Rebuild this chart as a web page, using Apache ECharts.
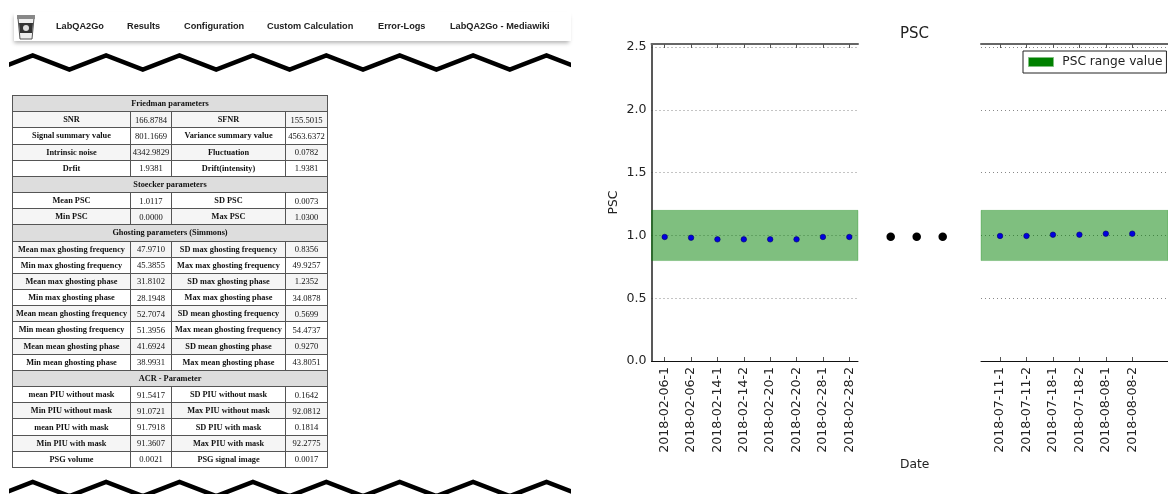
<!DOCTYPE html>
<html>
<head>
<meta charset="utf-8">
<title>PSC</title>
<script src="https://cdn.jsdelivr.net/npm/echarts@6/dist/echarts.min.js"></script>
<style>
html, body { margin: 0; padding: 0; background: #fff; width: 1168px; height: 494px; overflow: hidden; }
#chart { position: absolute; left: 0; top: 0; width: 1168px; height: 494px; }
#nav { position: absolute; left: 14px; top: 12px; width: 557px; height: 29px; background: #fff; box-shadow: -1px 3px 4px -1px rgba(0,0,0,.3); }
#nav span { position: absolute; top: 8px; font: bold 9.2px/12px "Liberation Sans", sans-serif; color: #222; white-space: nowrap; }
#nav svg { position: absolute; left: 1px; top: 1px; }
.zig { position: absolute; left: 9px; width: 562px; height: 30px; }
table { position: absolute; left: 12px; top: 95px; width: 315px; height: 373px; border-collapse: collapse; table-layout: fixed; font: 8.6px "Liberation Serif", serif; color: #111; }
td { border: 1px solid #555; padding: 0; text-align: center; height: 15px; white-space: nowrap; overflow: hidden; }
td.k, td.h { font-weight: bold; font-size: 8.3px; }
td.h { background: #ddd; }
tr:nth-child(even) td { background: #f5f5f5; }
tr:nth-child(even) td.h { background: #ddd; }
</style>
</head>
<body>
<div id="chart"></div>
<div id="nav">
  <svg width="22" height="28" viewBox="0 0 22 28">
    <path d="M3 5 L19 5 L17 26 L5 26 Z" fill="#eee" stroke="#555"/>
    <rect x="2" y="2" width="18" height="4" fill="#888"/>
    <path d="M4 10 L18 10 L17 20 L5 20 Z" fill="#333"/>
    <circle cx="11" cy="15" r="3" fill="#ddd"/>
  </svg>
</div>
<svg class="zig" style="top:48px"><polyline id="zigTop" fill="none" stroke="#000" stroke-width="4.5"/></svg>
<svg class="zig" style="top:474px"><polyline id="zigBottom" fill="none" stroke="#000" stroke-width="4.5"/></svg>
<table id="params"></table>
<script>
const navItems = [['LabQA2Go', 56], ['Results', 127], ['Configuration', 184], ['Custom Calculation', 267], ['Error-Logs', 378], ['LabQA2Go - Mediawiki', 450]]

const tableRows = [
    ['Friedman parameters'],
    ['SNR', '166.8784', 'SFNR', '155.5015'],
    ['Signal summary value', '801.1669', 'Variance summary value', '4563.6372'],
    ['Intrinsic noise', '4342.9829', 'Fluctuation', '0.0782'],
    ['Drfit', '1.9381', 'Drift(intensity)', '1.9381'],
    ['Stoecker parameters'],
    ['Mean PSC', '1.0117', 'SD PSC', '0.0073'],
    ['Min PSC', '0.0000', 'Max PSC', '1.0300'],
    ['Ghosting parameters (Simmons)'],
    ['Mean max ghosting frequency', '47.9710', 'SD max ghosting frequency', '0.8356'],
    ['Min max ghosting frequency', '45.3855', 'Max max ghosting frequency', '49.9257'],
    ['Mean max ghosting phase', '31.8102', 'SD max ghosting phase', '1.2352'],
    ['Min max ghosting phase', '28.1948', 'Max max ghosting phase', '34.0878'],
    ['Mean mean ghosting frequency', '52.7074', 'SD mean ghosting frequency', '0.5699'],
    ['Min mean ghosting frequency', '51.3956', 'Max mean ghosting frequency', '54.4737'],
    ['Mean mean ghosting phase', '41.6924', 'SD mean ghosting phase', '0.9270'],
    ['Min mean ghosting phase', '38.9931', 'Max mean ghosting phase', '43.8051'],
    ['ACR - Parameter'],
    ['mean PIU without mask', '91.5417', 'SD PIU without mask', '0.1642'],
    ['Min PIU without mask', '91.0721', 'Max PIU without mask', '92.0812'],
    ['mean PIU with mask', '91.7918', 'SD PIU with mask', '0.1814'],
    ['Min PIU with mask', '91.3607', 'Max PIU with mask', '92.2775'],
    ['PSG volume', '0.0021', 'PSG signal image', '0.0017']
]

const datesLeft = ['2018-02-06-1', '2018-02-06-2', '2018-02-14-1', '2018-02-14-2', '2018-02-20-1', '2018-02-20-2', '2018-02-28-1', '2018-02-28-2']
const valuesLeft = [0.988, 0.982, 0.969, 0.969, 0.969, 0.969, 0.988, 0.988]
const datesRight = ['2018-07-11-1', '2018-07-11-2', '2018-07-18-1', '2018-07-18-2', '2018-08-08-1', '2018-08-08-2']
const valuesRight = [0.996, 0.996, 1.006, 1.006, 1.014, 1.014]
const gapDots = [0.99, 0.99, 0.99]
const yTicks = [0, 0.5, 1, 1.5, 2, 2.5]
const pscRange = [0.8, 1.2]

// left part of the page is plain html, only the plot is echarts
const nav = document.getElementById('nav')
navItems.forEach(([text, x]) => {
    const s = document.createElement('span')
    s.textContent = text
    s.style.left = (x - 14) + 'px'
    nav.appendChild(s)
})

const table = document.getElementById('params')
table.innerHTML = '<colgroup><col style="width:118px"><col style="width:41px"><col style="width:114px"><col style="width:42px"></colgroup>' +
    tableRows.map(r => r.length === 1
        ? '<tr><td class="h" colspan="4">' + r[0] + '</td></tr>'
        : '<tr><td class="k">' + r[0] + '</td><td>' + r[1] + '</td><td class="k">' + r[2] + '</td><td>' + r[3] + '</td></tr>'
    ).join('')

const zigzag = (id, top, bottom) => {
    const pts = []
    // svg starts at x=9, the peaks sit every 73.4px from x=33
    for (let i = 0, x = -13; x < 600; i++, x += 36.7) {
        pts.push(x + ',' + (i % 2 ? top : bottom))
    }
    document.getElementById(id).setAttribute('points', pts.join(' '))
}
zigzag('zigTop', 7.5, 21.5)
zigzag('zigBottom', 8, 22)

const font = 'DejaVu Sans'
const yMax = 2.525

const dateAxis = (grid, dates, min, max, top) => ({
    type: 'value',
    gridIndex: grid,
    position: top ? 'top' : 'bottom',
    min: min,
    max: max,
    splitLine: { show: false },
    axisLine: { onZero: false, lineStyle: top ? { color: '#666', width: 2 } : { color: '#111', width: 1 } },
    axisTick: { inside: true, length: 4, customValues: dates.map((d, i) => i), lineStyle: { color: '#555' } },
    axisLabel: {
        show: !top,
        customValues: dates.map((d, i) => i),
        formatter: v => dates[v],
        rotate: 90,
        margin: 6,
        fontFamily: font,
        fontSize: 12.6,
        color: '#222'
    }
})

const valueAxis = (grid, main) => ({
    type: 'value',
    gridIndex: grid,
    min: 0,
    max: yMax,
    name: main ? 'PSC' : '',
    nameLocation: 'middle',
    nameGap: 32,
    nameTextStyle: { fontFamily: font, fontSize: 12.3, color: '#222' },
    axisLine: { show: main, onZero: false, lineStyle: { color: '#222', width: 1.5 } },
    axisTick: { show: false, customValues: yTicks },
    splitLine: { show: true, lineStyle: { color: '#888', type: [1, 3], width: 1 } },
    axisLabel: {
        show: main,
        customValues: yTicks,
        formatter: v => v.toFixed(1),
        margin: 5,
        fontFamily: font,
        fontSize: 12.6,
        color: '#222'
    }
})

const rangeBand = (x, y) => ({
    name: 'PSC range value',
    type: 'line',
    xAxisIndex: x,
    yAxisIndex: y,
    data: [],
    itemStyle: { color: '#008000' },
    markArea: {
        silent: true,
        itemStyle: { color: 'rgba(0,128,0,0.5)', borderColor: 'rgba(0,128,0,0.25)', borderWidth: 1 },
        data: [[{ yAxis: pscRange[0] }, { yAxis: pscRange[1] }]]
    }
})

const points = (x, y, values) => ({
    name: 'PSC',
    type: 'scatter',
    xAxisIndex: x,
    yAxisIndex: y,
    symbolSize: 5.5,
    itemStyle: { color: '#0000e0', borderColor: '#00006a', borderWidth: 0.6, opacity: 1 },
    data: values.map((v, i) => [i, v]),
    z: 5
})

const chart = echarts.init(document.getElementById('chart'))
chart.setOption({
    animation: false,
    backgroundColor: 'transparent',
    title: [
        { text: 'PSC', left: 895, top: 21.5, textStyle: { fontFamily: font, fontSize: 15, fontWeight: 'normal', color: '#222' } },
        { text: 'Date', left: 895, top: 454, textStyle: { fontFamily: font, fontSize: 12.3, fontWeight: 'normal', color: '#222' } }
    ],
    legend: {
        data: [{ name: 'PSC range value', icon: 'rect' }],
        formatter: n => ' ' + n,
        left: 1023,
        top: 51,
        itemWidth: 25,
        itemHeight: 9,
        padding: [5, 4, 5, 5],
        borderColor: '#222',
        borderWidth: 1,
        backgroundColor: '#fff',
        itemStyle: { color: '#008000', borderColor: '#7fbf7f', borderWidth: 1 },
        textStyle: { fontFamily: font, fontSize: 12.2, color: '#222' },
        z: 20
    },
    grid: [
        { left: 651.5, top: 44, width: 206.5, height: 317 },
        { left: 981, top: 44, width: 187, height: 317 },
        { left: 858, top: 44, width: 123, height: 317 }
    ],
    xAxis: [
        dateAxis(0, datesLeft, -0.5, 7.33, false),
        dateAxis(1, datesRight, -0.72, 6.35, false),
        dateAxis(0, datesLeft, -0.5, 7.33, true),
        dateAxis(1, datesRight, -0.72, 6.35, true),
        { type: 'value', gridIndex: 2, show: false, min: -1.258, max: 3.473 }
    ],
    yAxis: [
        valueAxis(0, true),
        valueAxis(1, false),
        { type: 'value', gridIndex: 2, show: false, min: 0, max: yMax }
    ],
    series: [
        rangeBand(0, 0),
        rangeBand(1, 1),
        points(0, 0, valuesLeft),
        points(1, 1, valuesRight),
        {
            name: 'gap',
            type: 'scatter',
            xAxisIndex: 4,
            yAxisIndex: 2,
            symbolSize: 8.5,
            itemStyle: { color: '#000', opacity: 1 },
            data: gapDots.map((v, i) => [i, v])
        }
    ]
})
</script>
</body>
</html>
